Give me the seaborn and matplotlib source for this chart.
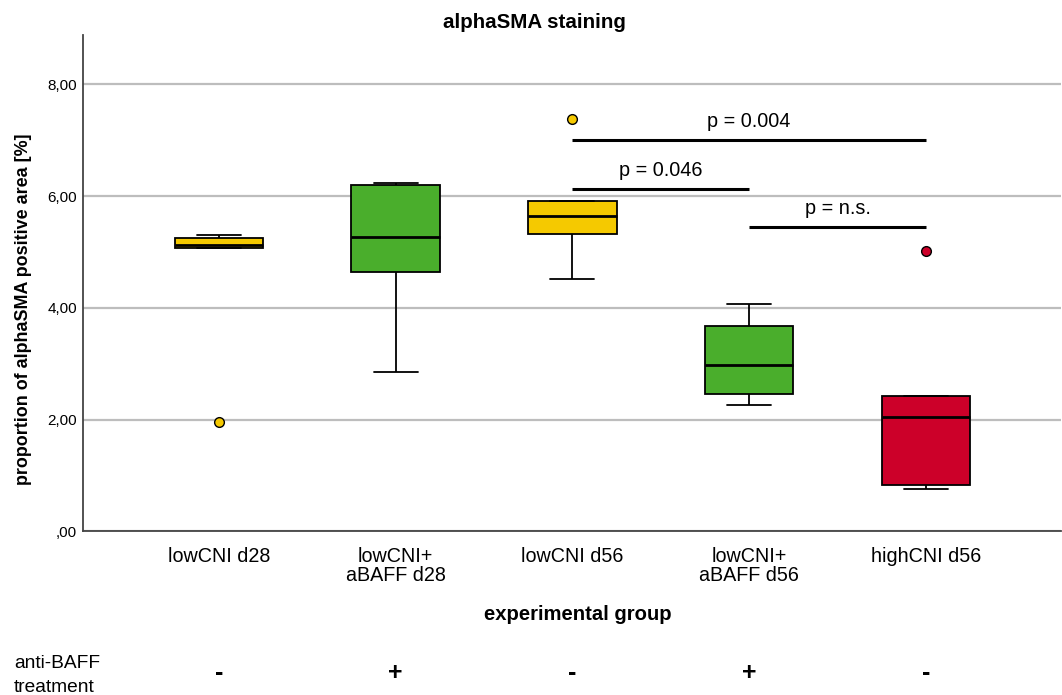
import numpy as np
import pandas as pd
import matplotlib
matplotlib.use("Agg")
import matplotlib.pyplot as plt
import seaborn as sns

# ---- data ----
groups = ["lowCNI d28", "lowCNI+\naBAFF d28", "lowCNI d56", "lowCNI+\naBAFF d56", "highCNI d56"]
vals_lowCNI_d28 = [1.95, 5.07, 5.13, 5.25, 5.30]
vals_lowCNI_aBAFF_d28 = [2.86, 4.64, 5.27, 6.20, 6.23]
vals_lowCNI_d56 = [4.52, 5.32, 5.64, 5.92, 7.38]
vals_lowCNI_aBAFF_d56 = [2.27, 2.46, 2.97, 3.68, 4.06]
vals_highCNI_d56 = [0.755, 0.84, 2.05, 2.43, 5.01]
colors = ["#F5C900", "#4AAE2C", "#F5C900", "#4AAE2C", "#CC0029"]
treatment = ["-", "+", "-", "+", "-"]
yticks = [0, 2, 4, 6, 8]
ytick_labels = [",00", "2,00", "4,00", "6,00", "8,00"]
# significance brackets: (group i, group j, y value, label)
sig_pairs = [(2, 4, 7.00, "p = 0.004"), (2, 3, 6.13, "p = 0.046"), (3, 4, 5.45, "p = n.s.")]

all_vals = [vals_lowCNI_d28, vals_lowCNI_aBAFF_d28, vals_lowCNI_d56,
            vals_lowCNI_aBAFF_d56, vals_highCNI_d56]
df = pd.DataFrame({
    "group": np.repeat(groups, [len(v) for v in all_vals]),
    "value": np.concatenate(all_vals),
})

sns.set_theme(style="white")
plt.rcParams["font.family"] = ["Liberation Sans", "DejaVu Sans"]
plt.rcParams["text.color"] = "black"
plt.rcParams["axes.labelcolor"] = "black"
plt.rcParams["xtick.color"] = "black"
plt.rcParams["ytick.color"] = "black"

fig = plt.figure(figsize=(10.62, 6.95), dpi=100)
ax = fig.add_axes([0.0778, 0.2353, 0.921, 0.7143])

sns.boxplot(data=df, x="group", y="value", hue="group", order=groups, hue_order=groups,
            palette=colors, width=0.5, linewidth=1.3, linecolor="black",
            legend=False, ax=ax, whis=1.5, saturation=1,
            medianprops=dict(color="black", linewidth=2.0),
            flierprops=dict(marker="o", markersize=7, markeredgecolor="black",
                            markeredgewidth=1.0))

# color fliers with group colours
for ln in ax.lines:
    xd = np.asarray(ln.get_xdata(), dtype=float)
    if ln.get_marker() == "o" and len(xd) > 0:
        idx = int(round(xd[0]))
        ln.set_markerfacecolor(colors[idx])
        ln.set_zorder(5)

ax.set_xlim(-0.771, 4.763)
ax.set_ylim(0, 8.88)
ax.set_yticks(yticks)
ax.set_yticklabels(ytick_labels, fontsize=11)
ax.tick_params(axis="y", length=0, pad=4)
ax.tick_params(axis="x", length=0, pad=11, labelsize=14.2)
for lab in ax.get_xticklabels():
    lab.set_linespacing(1.02)
ax.yaxis.grid(True, color="#BDBDBD", linewidth=1.6)
ax.set_axisbelow(True)
for s in ["top", "right"]:
    ax.spines[s].set_visible(False)
for s in ["left", "bottom"]:
    ax.spines[s].set_color("#444444")
    ax.spines[s].set_linewidth(1.3)

ax.set_xlabel("experimental group", fontsize=14.6, fontweight="bold")
ax.xaxis.set_label_coords((578 - 82.6) / 979.4, (531.5 - 615) / 496.5, transform=ax.transAxes)
ax.xaxis.label.set_va("center")
ax.set_ylabel("proportion of alphaSMA positive area [%]", fontsize=12.9,
              fontweight="bold")
ax.yaxis.set_label_coords((23 - 82.6) / 979.4, (531.5 - 309) / 496.5)
ax.yaxis.label.set_va("center")
ax.set_title("alphaSMA staining", fontsize=14.8, fontweight="bold", pad=5,
             x=(535 - 82.6) / 979.4)

for i, j, yv, lab in sig_pairs:
    ax.plot([i, j], [yv, yv], color="black", linewidth=2.2, solid_capstyle="butt")
    ax.text((i + j) / 2, yv + 0.16, lab, ha="center", va="bottom", fontsize=14.3)

# treatment row
fig.text(14 / 1062, 1 - 663 / 695, "anti-BAFF", ha="left", va="center", fontsize=13.8)
fig.text(14 / 1062, 1 - 687 / 695, "treatment", ha="left", va="center", fontsize=13.8)
for k, t in enumerate(treatment):
    xf = ax.transData.transform((k, 0))[0] / fig.bbox.width
    fig.text(xf, 1 - 673 / 695, t, ha="center", va="center", fontsize=18,
             fontweight="bold")

fig.savefig("out.png", dpi=100, facecolor="white")
